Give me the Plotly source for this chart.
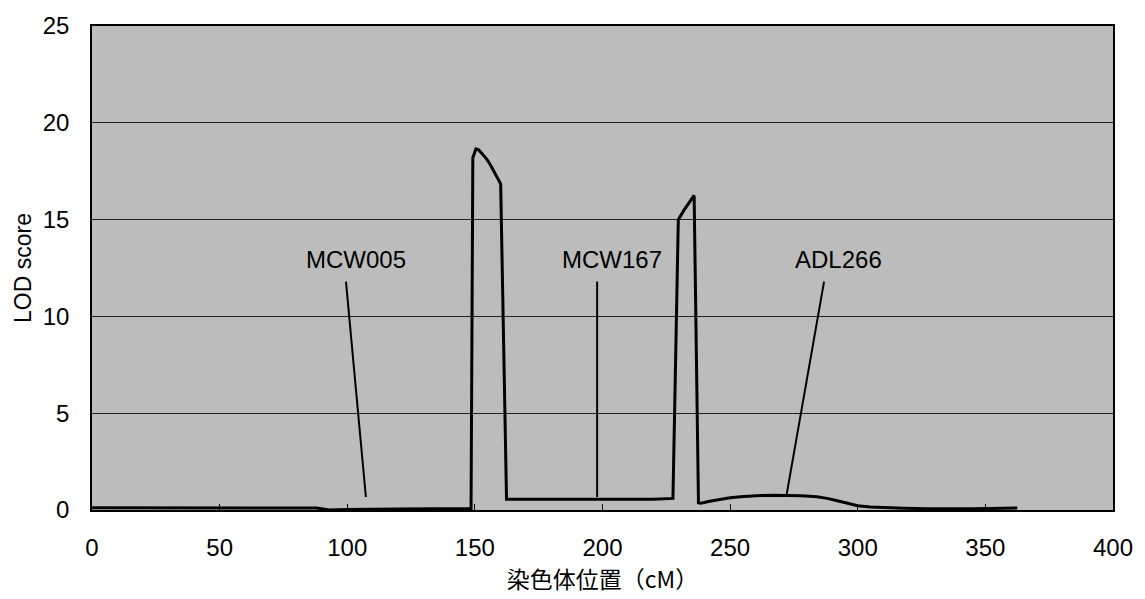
import plotly.graph_objects as go

# LOD profile
pos_cM = [0, 20, 40, 60, 80, 88, 93, 100, 120, 140, 148.5,
          149.2, 150.4, 151.5, 153, 154.5, 156, 157.5, 159, 160.1, 162.4,
          180, 200, 220, 227.6,
          229.7, 232, 234, 235.9, 237.6,
          238.5, 242, 246, 250, 254, 258, 262, 267, 272, 278, 284, 288,
          292, 296, 300, 305, 310, 318, 327, 345, 362.5]
lod = [0.12, 0.12, 0.1, 0.1, 0.12, 0.1, 0.0, 0.03, 0.05, 0.06, 0.08,
       18.2, 18.65, 18.6, 18.4, 18.15, 17.85, 17.5, 17.1, 16.85, 0.55,
       0.55, 0.55, 0.55, 0.6,
       15.0, 15.5, 15.9, 16.25, 0.37,
       0.35, 0.45, 0.55, 0.63, 0.69, 0.73, 0.75, 0.76, 0.76, 0.74, 0.68, 0.6,
       0.48, 0.34, 0.22, 0.15, 0.12, 0.09, 0.07, 0.06, 0.1]

# marker labels and their pointer lines
marker_names = ["MCW005", "MCW167", "ADL266"]
label_x = [103.5, 203.6, 292.6]
label_y = [12.93, 12.93, 12.93]
line_start_x = [99.5, 197.9, 286.8]
line_start_y = [11.8, 11.8, 11.8]
line_end_x = [107.3, 197.9, 272.1]
line_end_y = [0.67, 0.67, 0.77]

x_ticks = [0, 50, 100, 150, 200, 250, 300, 350, 400]
y_ticks = [0, 5, 10, 15, 20, 25]

FONT = "Liberation Sans, Arial, sans-serif"

fig = go.Figure()

for i in range(len(marker_names)):
    fig.add_trace(go.Scatter(
        x=[line_start_x[i], line_end_x[i]], y=[line_start_y[i], line_end_y[i]],
        mode="lines", line=dict(color="black", width=2), showlegend=False,
        hoverinfo="skip"))

fig.add_trace(go.Scatter(x=pos_cM, y=lod, mode="lines",
                         line=dict(color="black", width=3),
                         showlegend=False))

for i, name in enumerate(marker_names):
    fig.add_annotation(x=label_x[i], y=label_y[i], text=name, showarrow=False,
                       font=dict(family=FONT, size=24, color="black"),
                       xanchor="center", yanchor="middle")

fig.update_layout(
    width=1145, height=599,
    margin=dict(l=92, r=24, t=22, b=89),
    paper_bgcolor="white",
    plot_bgcolor="#bcbcbc",
    font=dict(family=FONT, color="black"),
    xaxis=dict(range=[0, 400], tickvals=x_ticks, ticks="inside", ticklen=6,
               tickcolor="black", showgrid=False, zeroline=False,
               showline=True, linecolor="black", linewidth=2, mirror=True,
               tickfont=dict(size=24, family=FONT), ticklabelstandoff=15,
               title=dict(text="染色体位置（cM）",
                          font=dict(size=23, family="Noto Sans CJK JP, sans-serif"),
                          standoff=2)),
    yaxis=dict(range=[0, 25], tickvals=y_ticks, ticks="", showgrid=True,
               gridcolor="#222222", gridwidth=1, zeroline=False,
               showline=True, linecolor="black", linewidth=1.5, mirror=True,
               tickfont=dict(size=24, family=FONT), ticklabelstandoff=16,
               title=dict(text="LOD score", font=dict(size=23, family=FONT),
                          standoff=5)),
)

fig.write_html("out.html")
